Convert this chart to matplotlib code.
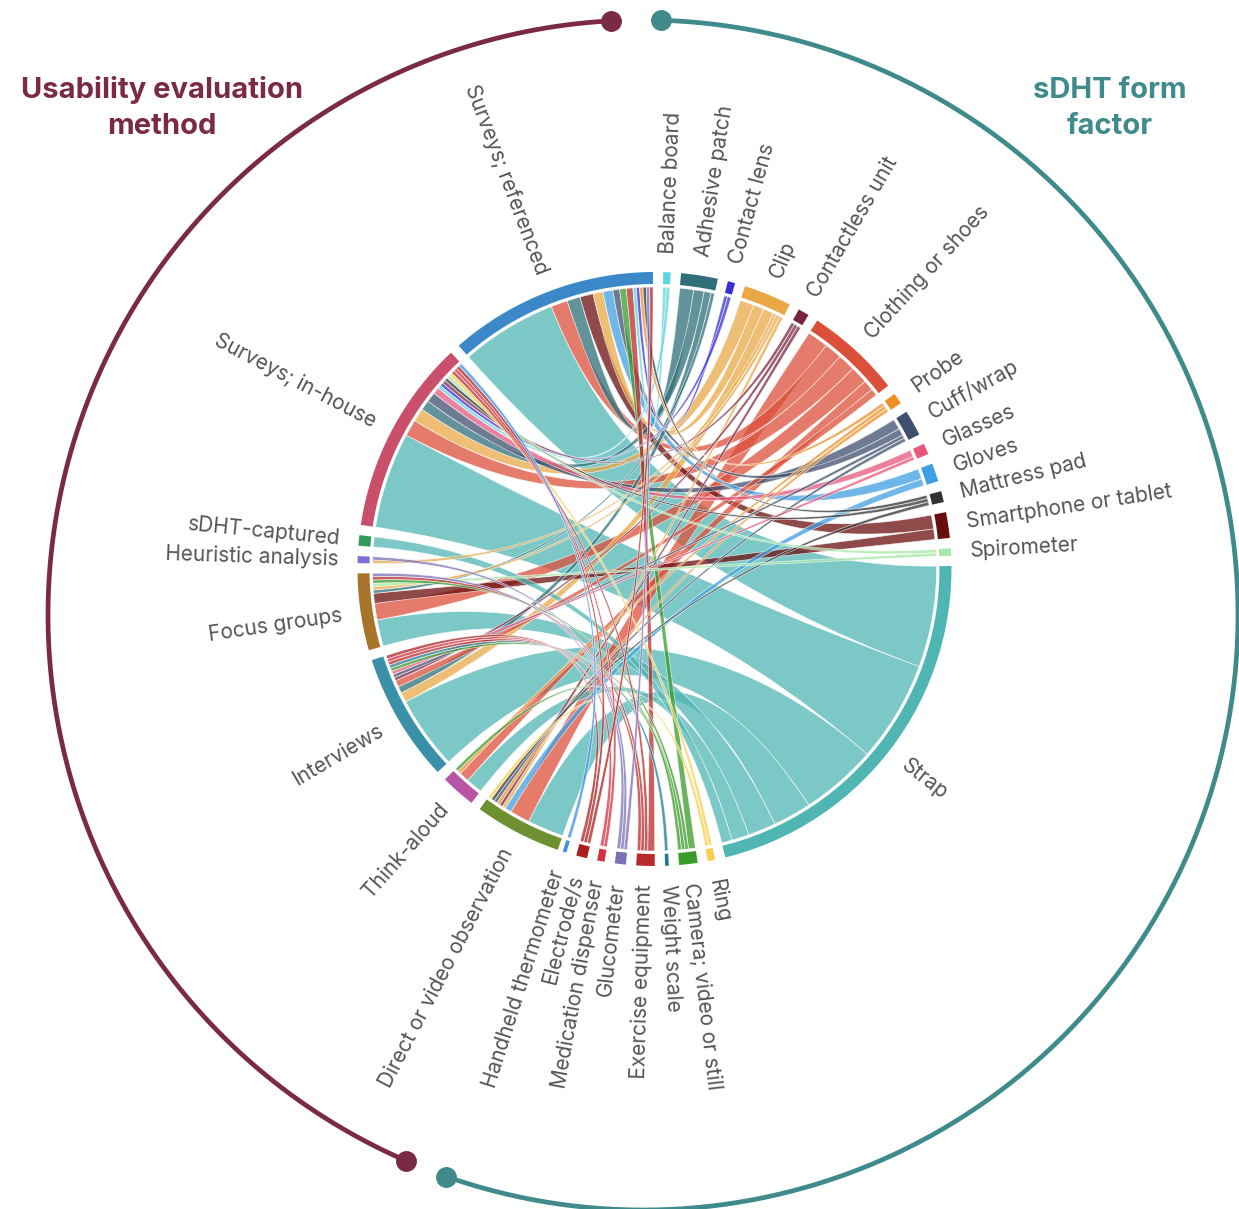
import numpy as np
import matplotlib
matplotlib.use('Agg')
import matplotlib.pyplot as plt
from matplotlib.path import Path
from matplotlib.patches import PathPatch

#-------Dados-------#

formas = ['Balance board', 'Adhesive patch', 'Contact lens', 'Clip', 'Contactless unit',
          'Clothing or shoes', 'Probe', 'Cuff/wrap', 'Glasses', 'Gloves', 'Mattress pad',
          'Smartphone or tablet', 'Spirometer', 'Strap', 'Ring', 'Camera; video or still',
          'Weight scale', 'Exercise equipment', 'Glucometer', 'Medication dispenser',
          'Electrode/s', 'Handheld thermometer']
metodos = ['Surveys; referenced', 'Surveys; in-house', 'sDHT-captured', 'Heuristic analysis',
           'Focus groups', 'Interviews', 'Think-aloud', 'Direct or video observation']

# contagens por metodo, mesma ordem de formas
referenced = [1, 4, 1, 3, 0, 5, 1, 2, 0, 3, 1, 4, 0, 29, 0, 2, 0, 2, 1, 0, 1, 0]
in_house   = [1, 3, 1, 4, 1, 5, 0, 3, 2, 0, 1, 0, 1, 29, 1, 0, 0, 1, 0, 1, 1, 1]
captured   = [0, 0, 0, 0, 0, 0, 0, 0, 0, 0, 0, 0, 0, 3, 0, 0, 0, 0, 0, 0, 0, 0]
heuristic  = [0, 0, 0, 1, 0, 0, 0, 0, 0, 0, 0, 0, 0, 0, 0, 0, 0, 0, 1, 0, 0, 0]
focus      = [0, 1, 0, 1, 0, 5, 0, 0, 0, 0, 0, 3, 1, 8, 0, 1, 0, 1, 1, 0, 0, 0]
interviews = [0, 2, 0, 3, 1, 2, 0, 1, 1, 0, 0, 0, 0, 22, 0, 1, 1, 1, 0, 1, 1, 0]
think      = [0, 0, 0, 0, 0, 3, 1, 0, 0, 0, 0, 0, 0, 5, 0, 1, 0, 0, 0, 0, 0, 0]
direct     = [0, 0, 0, 1, 1, 6, 1, 1, 0, 2, 1, 0, 0, 11, 1, 0, 0, 0, 0, 0, 0, 0]

cores_formas = ['#5fd3de', '#2f6f78', '#3a2fd0', '#e9a845', '#7a2540', '#dc4f3a', '#ec8f25',
                '#3f4f6e', '#e8567c', '#3f9fe2', '#333333', '#6a0d0d', '#a5e8a5', '#4fb6b4',
                '#f6d04d', '#3a9a2a', '#1f7a90', '#b92a2a', '#7a70b8', '#d5303f', '#a82020',
                '#3f90e0']
cores_metodos = ['#3a88c8', '#c94f6a', '#2f9a5a', '#7a70d8', '#a8742a', '#3a90a8', '#b855a5',
                 '#6f9030']

matriz = np.array([referenced, in_house, captured, heuristic, focus, interviews, think, direct])

#-------Layout-------#

CX, CY = 654.5, 569
R_FORA, R_DENTRO, R_FITA = 297, 285, 282
PAD = 2.0
# faixa angular de cada grupo, medida a partir do topo em sentido horario
FAIXA_FORMAS = (1.7, 198.0)
FAIXA_METODOS = (199.0, 359.7)
n_f = len(formas)
n_m = len(metodos)
nomes = formas + metodos[::-1]
cores = cores_formas + cores_metodos[::-1]


def ponto(ang, r):
    a = np.radians(ang)
    return CX + r * np.sin(a), CY - r * np.cos(a)


def arco(a0, a1, r, n=30):
    return [ponto(a, r) for a in np.linspace(a0, a1, n)]


def fita(a0, a1, b0, b1):
    verts = arco(a0, a1, R_FITA)
    codes = [Path.MOVETO] + [Path.LINETO] * (len(verts) - 1)
    verts += [(CX, CY), ponto(b0, R_FITA)]
    codes += [Path.CURVE3, Path.CURVE3]
    v2 = arco(b0, b1, R_FITA)[1:]
    verts += v2
    codes += [Path.LINETO] * len(v2)
    verts += [(CX, CY), ponto(a0, R_FITA)]
    codes += [Path.CURVE3, Path.CURVE3]
    return Path(verts, codes)


def main():
    fig = plt.figure(figsize=(12.39, 12.09), dpi=100)
    ax = fig.add_axes([0, 0, 1, 1])
    ax.set_xlim(0, 1239)
    ax.set_ylim(1209, 0)
    ax.axis('off')

    total = matriz.sum()
    escala_f = (FAIXA_FORMAS[1] - FAIXA_FORMAS[0] - PAD * (n_f - 1)) / total
    escala_m = (FAIXA_METODOS[1] - FAIXA_METODOS[0] - PAD * (n_m - 1)) / total

    # cada setor reparte seu arco em ordem decrescente, como o d3.chord
    ang = FAIXA_FORMAS[0]
    setores = []
    sub_f = {}
    sub_m = {}
    for i in range(len(nomes)):
        if i == n_f:
            ang = FAIXA_METODOS[0]
        ini = ang
        if i < n_f:
            vals = matriz[:, i]
            escala = escala_f
        else:
            vals = matriz[n_m - 1 - (i - n_f), :]
            escala = escala_m
        for j in sorted(range(len(vals)), key=lambda k: -vals[k]):
            if vals[j] == 0:
                continue
            fim = ang + vals[j] * escala
            if i < n_f:
                sub_f[(j, i)] = (ang, fim)
            else:
                sub_m[(n_m - 1 - (i - n_f), j)] = (ang, fim)
            ang = fim
        setores.append((ini, ang))
        ang += PAD

    # fitas grandes primeiro
    pares = sorted(sub_f.keys(), key=lambda p: -matriz[p])
    for m, f in pares:
        a0, a1 = sub_m[(m, f)]
        b0, b1 = sub_f[(m, f)]
        ax.add_patch(PathPatch(fita(a0, a1, b0, b1), facecolor=cores_formas[f], alpha=0.75,
                               edgecolor='white', linewidth=0.5))

    for i, (ini, fim) in enumerate(setores):
        verts = arco(ini, fim, R_FORA) + arco(fim, ini, R_DENTRO)
        ax.fill([v[0] for v in verts], [v[1] for v in verts], color=cores[i], linewidth=0)

        meio = (ini + fim) / 2
        x, y = ponto(meio, R_FORA + 19)
        if meio <= 180.5:
            ax.text(x, y, nomes[i], rotation=90 - meio, rotation_mode='anchor', ha='left',
                    va='center', fontsize=15, color='#555555', family='Inter')
        else:
            ax.text(x, y, nomes[i], rotation=270 - meio, rotation_mode='anchor', ha='right',
                    va='center', fontsize=15, color='#555555', family='Inter')

    # arcos externos dos dois grupos
    ox, oy, raio = 643, 615, 595
    t = np.radians(np.linspace(-3.1, -156.5, 300))
    ax.plot(ox + raio * np.sin(t), oy - raio * np.cos(t), color='#7a2a42', lw=3.4)
    ax.plot(ox + raio * np.sin(t[[0, -1]]), oy - raio * np.cos(t[[0, -1]]), 'o', color='#7a2a42', ms=14)
    t = np.radians(np.linspace(1.7, 199.3, 300))
    ax.plot(ox + raio * np.sin(t), oy - raio * np.cos(t), color='#3f8a8a', lw=3.4)
    ax.plot(ox + raio * np.sin(t[[0, -1]]), oy - raio * np.cos(t[[0, -1]]), 'o', color='#3f8a8a', ms=14)

    ax.text(162, 90, 'Usability evaluation', ha='center', va='center', fontsize=21,
            fontweight='bold', color='#7a2a42', family='Inter')
    ax.text(162, 127, 'method', ha='center', va='center', fontsize=21,
            fontweight='bold', color='#7a2a42', family='Inter')
    ax.text(1110, 90, 'sDHT form', ha='center', va='center', fontsize=21,
            fontweight='bold', color='#3f8a8a', family='Inter')
    ax.text(1110, 127, 'factor', ha='center', va='center', fontsize=21,
            fontweight='bold', color='#3f8a8a', family='Inter')

    fig.savefig('out.png', dpi=100)


if __name__ == '__main__':
    main()
